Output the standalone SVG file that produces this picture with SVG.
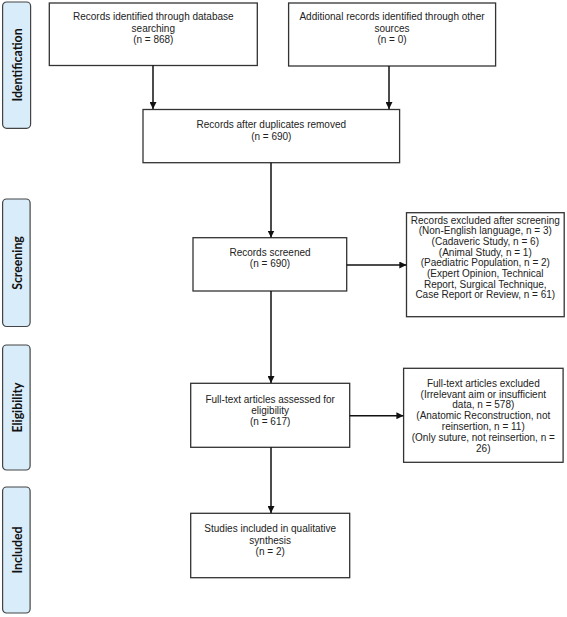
<svg xmlns="http://www.w3.org/2000/svg" width="567" height="617" viewBox="0 0 567 617">
<defs>
<marker id="ah" viewBox="0 0 10 10" refX="10" refY="5" markerWidth="7" markerHeight="7" markerUnits="userSpaceOnUse" orient="auto">
<path d="M0,0 L10,5 L0,10 z" fill="#111"/>
</marker>
<style>
.box{fill:#fff;stroke:#333;stroke-width:1.3}
.lab{fill:#d9ecfa;stroke:#444;stroke-width:1.2}
.t{font-family:"Liberation Sans",Arial,sans-serif;font-size:10px;fill:#222;text-anchor:middle}
.lt{font-family:Lato,"Open Sans",sans-serif;font-weight:bold;font-size:12.3px;fill:#111;text-anchor:middle;dominant-baseline:central}
.c{stroke:#111;stroke-width:1.5;fill:none;marker-end:url(#ah)}
</style>
</defs>
<rect width="567" height="617" fill="#fff"/>
<g id="lab-identification"><rect class="lab" x="2.6" y="2" width="28" height="126.3" rx="4"/><text class="lt" transform="translate(17.3,65) rotate(-90)">Identification</text></g>
<g id="lab-screening"><rect class="lab" x="2.6" y="199" width="27.5" height="127.5" rx="4"/><text class="lt" transform="translate(17.3,263) rotate(-90)">Screening</text></g>
<g id="lab-eligibility"><rect class="lab" x="2.6" y="345" width="27.5" height="125" rx="4"/><text class="lt" transform="translate(17.3,407.5) rotate(-90)">Eligibility</text></g>
<g id="lab-included"><rect class="lab" x="2.6" y="487" width="27.5" height="126" rx="4"/><text class="lt" transform="translate(17.3,550) rotate(-90)">Included</text></g>

<g id="n-db"><rect class="box" x="49.3" y="3" width="208" height="62.5"/>
<text class="t" x="153.3" y="20.2">Records identified through database</text>
<text class="t" x="153.3" y="31.5">searching</text>
<text class="t" x="153.3" y="42.8">(n = 868)</text></g>
<g id="n-other"><rect class="box" x="288.6" y="3" width="207" height="63"/>
<text class="t" x="392" y="20.2">Additional records identified through other</text>
<text class="t" x="392" y="31.5">sources</text>
<text class="t" x="392" y="42.8">(n = 0)</text></g>
<g id="n-dup"><rect class="box" x="143" y="109.5" width="256.6" height="53.2"/>
<text class="t" x="271.3" y="127.5">Records after duplicates removed</text>
<text class="t" x="271.3" y="140.2">(n = 690)</text></g>
<g id="n-screened"><rect class="box" x="193" y="237.7" width="153.7" height="53.3"/>
<text class="t" x="270" y="256.2">Records screened</text>
<text class="t" x="270" y="266.7">(n = 690)</text></g>
<g id="n-excl1"><rect class="box" x="406.5" y="212.7" width="157.7" height="104"/>
<text class="t" x="485.3" y="223.5">Records excluded after screening</text>
<text class="t" x="485.3" y="234.2">(Non-English language, n = 3)</text>
<text class="t" x="485.3" y="244.9">(Cadaveric Study, n = 6)</text>
<text class="t" x="485.3" y="255.6">(Animal Study, n = 1)</text>
<text class="t" x="485.3" y="266.3">(Paediatric Population, n = 2)</text>
<text class="t" x="485.3" y="277">(Expert Opinion, Technical</text>
<text class="t" x="485.3" y="287.7">Report, Surgical Technique,</text>
<text class="t" x="485.3" y="298.4">Case Report or Review, n = 61)</text></g>
<g id="n-fulltext"><rect class="box" x="190.7" y="383.3" width="159" height="64"/>
<text class="t" x="270.2" y="402.8">Full-text articles assessed for</text>
<text class="t" x="270.2" y="414">eligibility</text>
<text class="t" x="270.2" y="425.2">(n = 617)</text></g>
<g id="n-excl2"><rect class="box" x="403.6" y="368.3" width="159.5" height="94"/>
<text class="t" x="483.3" y="386.8">Full-text articles excluded</text>
<text class="t" x="483.3" y="397.6">(Irrelevant aim or insufficient</text>
<text class="t" x="483.3" y="408.4">data, n = 578)</text>
<text class="t" x="483.3" y="419.2">(Anatomic Reconstruction, not</text>
<text class="t" x="483.3" y="430">reinsertion, n = 11)</text>
<text class="t" x="483.3" y="440.8">(Only suture, not reinsertion, n =</text>
<text class="t" x="483.3" y="451.6">26)</text></g>
<g id="n-included"><rect class="box" x="190.7" y="513.3" width="159" height="64.4"/>
<text class="t" x="270.2" y="532.2">Studies included in qualitative</text>
<text class="t" x="270.2" y="543.5">synthesis</text>
<text class="t" x="270.2" y="554.8">(n = 2)</text></g>

<g id="connectors">
<line class="c" x1="153" y1="65.5" x2="153" y2="109"/>
<line class="c" x1="389" y1="66" x2="389" y2="109"/>
<line class="c" x1="271" y1="162.7" x2="271" y2="237.5"/>
<line class="c" x1="346.7" y1="265" x2="406.3" y2="265"/>
<line class="c" x1="271" y1="291" x2="271" y2="383"/>
<line class="c" x1="349.7" y1="415.7" x2="403.4" y2="415.7"/>
<line class="c" x1="271" y1="447.3" x2="271" y2="513"/>
</g>
</svg>
